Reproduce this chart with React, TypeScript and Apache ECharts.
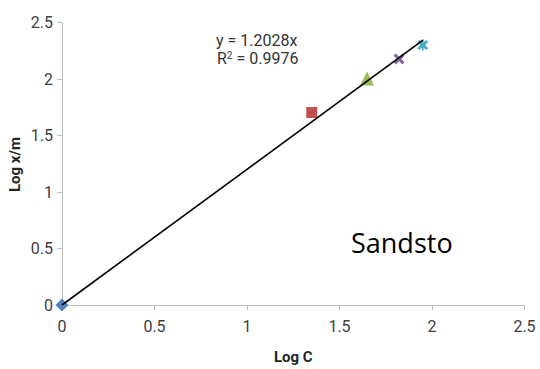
import React, { useEffect, useRef } from "react";
import * as echarts from "echarts";

const xTicks = [0, 0.5, 1, 1.5, 2, 2.5];
const yTicks = [0, 0.5, 1, 1.5, 2, 2.5];

const pointNames = ["p1", "p2", "p3", "p4", "p5"];
const pointX = [0, 1.35, 1.649, 1.822, 1.95];
const pointY = [0, 1.705, 2.005, 2.179, 2.302];
const pointColors = ["#4f81bd", "#c0504d", "#9bbb59", "#8064a2", "#4bacc6"];

const trendX = [0, 1.951];
const trendY = [0, 2.345];

const equationText = "y = 1.2028x";
const r2Value = "0.9976";
const annotation = "Sandsto";
const xName = "Log C";
const yName = "Log x/m";

const X_PATH =
  "path://M0,2 L2,0 L5,3 L8,0 L10,2 L7,5 L10,8 L8,10 L5,7 L2,10 L0,8 L3,5 Z";
const STAR_PATH =
  "path://M0,2.2 L2,0.4 L4.2,2.6 L4.2,0 L5.8,0 L5.8,2.6 L8,0.4 L10,2.2 L7.2,5 L10,7.8 L8,9.6 L5.8,7.4 L5.8,10 L4.2,10 L4.2,7.4 L2,9.6 L0,7.8 L2.8,5 Z";

const symbols = ["diamond", "rect", "triangle", X_PATH, STAR_PATH];
const sizes = [13, 11, 14, 11, 11];

export default function App() {
  const ref = useRef<HTMLDivElement>(null);
  useEffect(() => {
    if (!ref.current) return;
    const chart = echarts.init(ref.current, undefined, { renderer: "svg" });
    const font = "Roboto, 'Noto Sans', sans-serif";
    const scatterSeries = pointNames.map((n, i) => ({
      name: n,
      type: "scatter",
      data: [[pointX[i], pointY[i]]],
      symbol: symbols[i],
      symbolSize: sizes[i],
      itemStyle: { color: pointColors[i], opacity: 1 },
      z: 3,
    }));
    chart.setOption({
      animation: false,
      backgroundColor: "#ffffff",
      grid: { left: 62, right: 15.5, top: 22.7, bottom: 56, containLabel: false },
      xAxis: {
        type: "value",
        min: xTicks[0],
        max: xTicks[xTicks.length - 1],
        interval: 0.5,
        name: xName,
        nameLocation: "middle",
        nameGap: 44,
        nameTextStyle: { fontFamily: font, fontSize: 15, fontWeight: "bold", color: "#262626" },
        axisLine: { show: true, lineStyle: { color: "#bfbfbf", width: 1 } },
        axisTick: { show: true, length: 5, lineStyle: { color: "#bfbfbf" } },
        axisLabel: { fontFamily: font, fontSize: 16, color: "#404040", margin: 13 },
        splitLine: { show: false },
      },
      yAxis: {
        type: "value",
        min: yTicks[0],
        max: yTicks[yTicks.length - 1],
        interval: 0.5,
        axisLine: { show: true, lineStyle: { color: "#bfbfbf", width: 1 } },
        axisTick: { show: true, length: 5, lineStyle: { color: "#bfbfbf" } },
        axisLabel: { fontFamily: font, fontSize: 16, color: "#404040", margin: 9 },
        splitLine: { show: false },
      },
      graphic: [
        {
          type: "text",
          left: 7,
          top: 137,
          rotation: Math.PI / 2,
          style: {
            text: yName,
            x: 0,
            y: 0,
            fontFamily: font,
            fontSize: 15,
            fontWeight: "bold",
            fill: "#262626",
          },
        },
        {
          type: "text",
          x: 216,
          y: 32,
          style: {
            text: equationText,
            fontFamily: font,
            fontSize: 16,
            fill: "#333333",
          },
        },
        {
          type: "text",
          x: 217,
          y: 50,
          style: {
            text: "{a|R}{s|2}{a| = " + r2Value + "}",
            fontFamily: font,
            fontSize: 16,
            fill: "#333333",
            rich: {
              a: { fontFamily: font, fontSize: 16, fill: "#333333", verticalAlign: "bottom" },
              s: { fontFamily: font, fontSize: 10, fill: "#333333", verticalAlign: "top", padding: [0, 0, 6, 0] },
            },
          },
        },
        {
          type: "text",
          x: 351,
          y: 229,
          style: {
            text: annotation,
            fontFamily: "'Open Sans', sans-serif",
            fontSize: 27,
            fill: "#000000",
          },
        },
      ],
      series: [
        {
          name: "trend",
          type: "line",
          data: trendX.map((x, i) => [x, trendY[i]]),
          symbol: "none",
          lineStyle: { color: "#000000", width: 1.6 },
          z: 4,
        },
        ...scatterSeries,
      ],
    });
    return () => chart.dispose();
  }, []);
  return (
    <div
      ref={ref}
      style={{ position: "fixed", left: 0, top: 0, width: 540, height: 369, background: "#fff" }}
    />
  );
}
